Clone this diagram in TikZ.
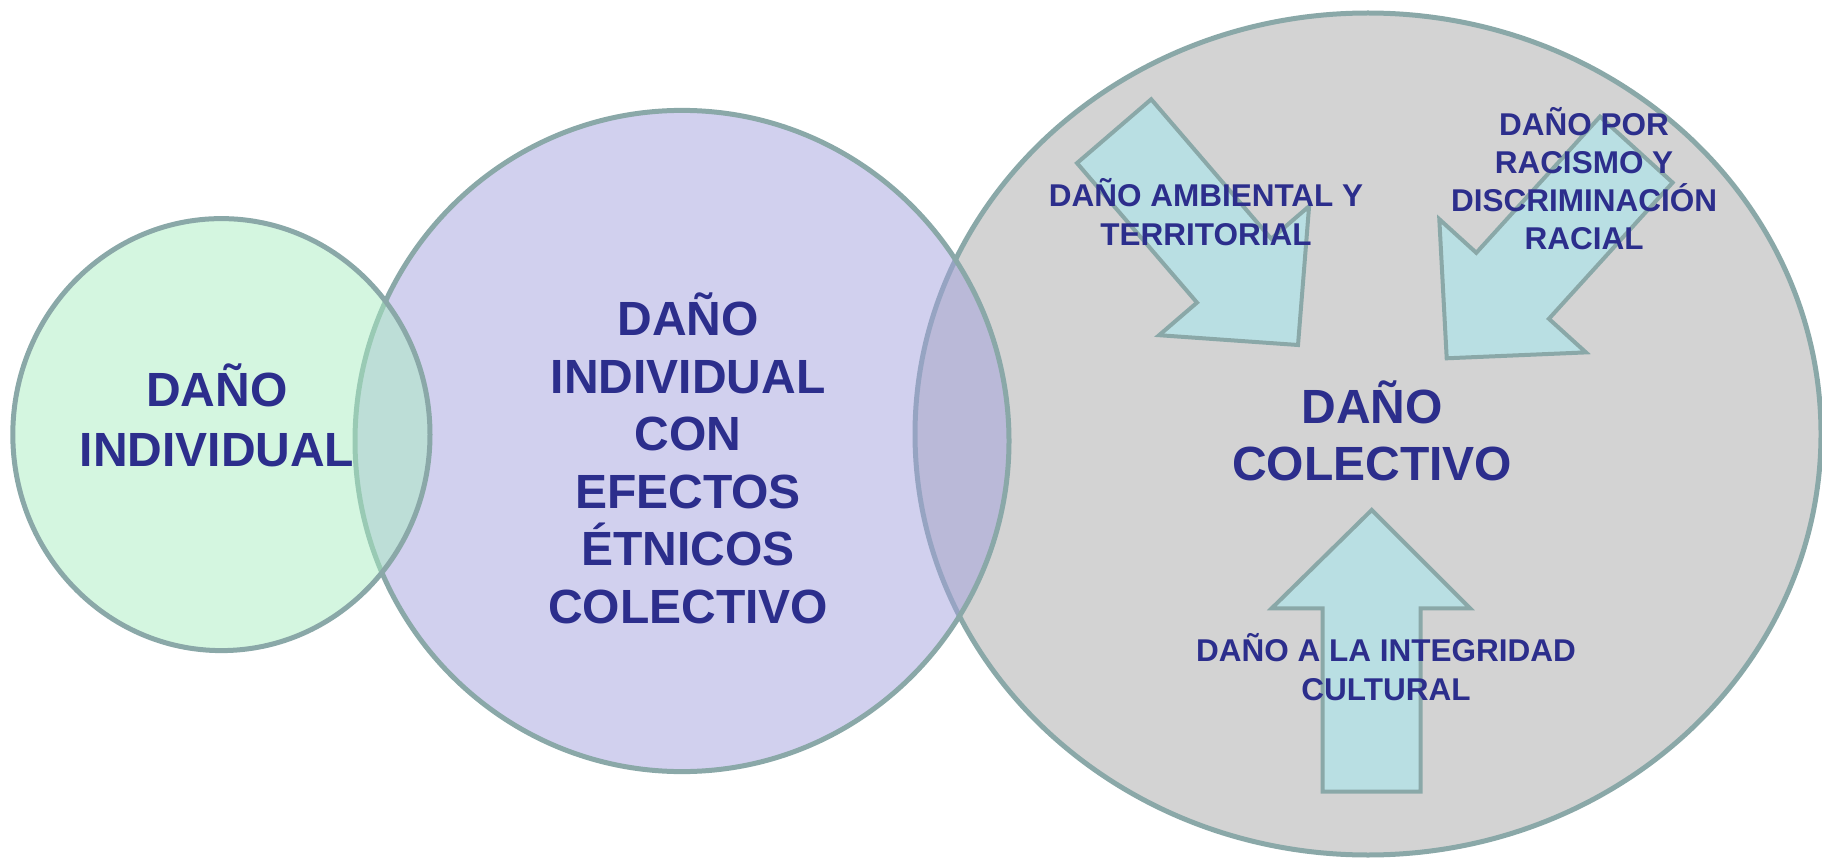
\documentclass[tikz,border=0pt]{standalone}
\usepackage{fontspec}
\setmainfont{Liberation Sans}
\definecolor{edge}{HTML}{8AA8A8}
\definecolor{greyfill}{HTML}{D3D3D3}
\definecolor{purplefill}{RGB}{163,161,221}
\definecolor{greenfill}{RGB}{169,237,193}
\definecolor{arrowfill}{HTML}{B9DFE3}
\definecolor{ink}{RGB}{44,46,140}
\tikzset{
  ring/.style={draw=edge, line width=5pt},
  bigarrow/.style={draw=edge, fill=arrowfill, line width=4pt, line join=miter},
  bigtext/.style={inner sep=0pt, align=center, text=ink, anchor=base,
    font=\bfseries\fontsize{48}{57.5}\selectfont},
  smalltext/.style={inner sep=0pt, align=center, text=ink, anchor=base,
    font=\bfseries\fontsize{31.5}{38.5}\selectfont}
}
\begin{document}
\begin{tikzpicture}[x=1pt,y=-1pt]
\useasboundingbox (0,0) rectangle (1822,858);
% collective ellipse
\draw[ring, fill=greyfill] (1368,434) ellipse [x radius=453pt, y radius=421pt];
% arrows
\draw[bigarrow] (1298,345) -- (1159.1,335.2) -- (1197.0,302.6) -- (1077.0,163.1)
  -- (1151.2,99.3) -- (1271.2,238.8) -- (1309.1,206.2) -- cycle;
\draw[bigarrow] (1446.7,358.3) -- (1439.3,219.2) -- (1476.3,252.8) -- (1600.0,116.6)
  -- (1672.6,182.6) -- (1548.9,318.8) -- (1585.9,352.4) -- cycle;
\draw[bigarrow] (1371.7,510) -- (1470,608.3) -- (1420.7,608.3) -- (1420.7,791.7)
  -- (1322.7,791.7) -- (1322.7,608.3) -- (1271.7,608.3) -- cycle;
% purple and green circles
\draw[ring, fill=purplefill, fill opacity=0.5] (682,441) ellipse [x radius=327pt, y radius=330.6pt];
\draw[ring, fill=greenfill, fill opacity=0.5] (221.4,434.6) ellipse [x radius=208.6pt, y radius=216pt];
% texts (anchor=base is the baseline of the last line)
\node[bigtext, font=\bfseries\fontsize{48}{59.3}\selectfont] (individual) at (217,466) {DAÑO\\INDIVIDUAL};
\node[bigtext] (etnicos) at (688,623.3) {DAÑO\\INDIVIDUAL\\CON\\EFECTOS\\ÉTNICOS\\COLECTIVO};
\node[bigtext, font=\bfseries\fontsize{48}{56.7}\selectfont] (colectivo) at (1372,480) {DAÑO\\COLECTIVO};
\node[smalltext, font=\bfseries\fontsize{31.5}{39}\selectfont] (ambiental) at (1206,245.7) {DAÑO AMBIENTAL Y\\TERRITORIAL};
\node[smalltext, font=\bfseries\fontsize{31.5}{38.3}\selectfont] (racismo) at (1584,250) {DAÑO POR\\RACISMO Y\\DISCRIMINACIÓN\\RACIAL};
\node[smalltext, font=\bfseries\fontsize{31.5}{38.3}\selectfont] (cultural) at (1386,700) {DAÑO A LA INTEGRIDAD\\CULTURAL};
\end{tikzpicture}
\end{document}
